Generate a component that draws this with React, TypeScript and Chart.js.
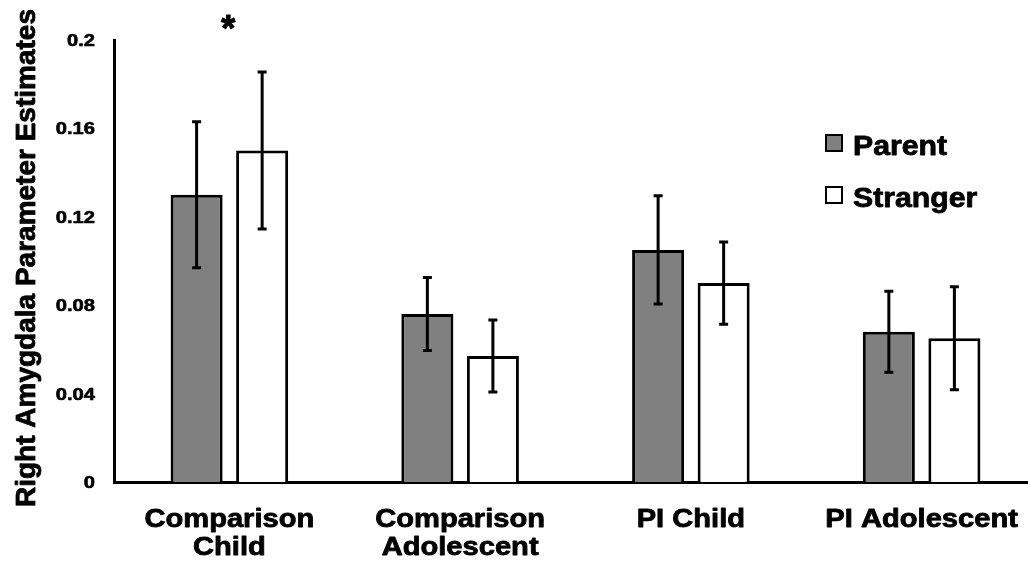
import React, { useEffect, useRef } from 'react';
import { Chart, registerables } from 'chart.js';

Chart.register(...registerables);

// ---- data ----
const categories: string[][] = [
  ['Comparison', 'Child'],
  ['Comparison', 'Adolescent'],
  ['PI Child'],
  ['PI Adolescent'],
];
const seriesNames = ['Parent', 'Stranger'];
const parentValues = [0.13, 0.076, 0.105, 0.068];
const parentErrors = [0.033, 0.0165, 0.0245, 0.0183];
const strangerValues = [0.15, 0.057, 0.09, 0.065];
const strangerErrors = [0.0355, 0.0163, 0.0186, 0.0233];
const yTicks = [0, 0.04, 0.08, 0.12, 0.16, 0.2];
const yTickLabels = ['0', '0.04', '0.08', '0.12', '0.16', '0.2'];
const significanceMarks = ['*', '', '', ''];
const yTitle = 'Right Amygdala Parameter Estimates';

const FONT = '"Liberation Sans", Arial, sans-serif';
const parentColor = '#808080';
const strangerColor = '#ffffff';

function drawText(
  ctx: CanvasRenderingContext2D,
  s: string,
  x: number,
  y: number,
  size: number,
  align: CanvasTextAlign,
  sx: number,
  heavy = 0.7
) {
  ctx.save();
  ctx.translate(x, y);
  ctx.scale(sx, 1);
  ctx.font = `bold ${size}px ${FONT}`;
  ctx.textAlign = align;
  ctx.textBaseline = 'alphabetic';
  ctx.fillStyle = '#000';
  ctx.strokeStyle = '#000';
  ctx.lineJoin = 'round';
  ctx.fillText(s, 0, 0);
  if (heavy > 0) {
    ctx.lineWidth = heavy;
    ctx.strokeText(s, 0, 0);
  }
  ctx.restore();
}

const errorBarPlugin = {
  id: 'errorBars',
  afterDatasetsDraw(chart: any) {
    const ctx = chart.ctx as CanvasRenderingContext2D;
    const yScale = chart.scales.y;
    const errs = [parentErrors, strangerErrors];
    chart.data.datasets.forEach((ds: any, i: number) => {
      const meta = chart.getDatasetMeta(i);
      meta.data.forEach((el: any, j: number) => {
        const v = ds.data[j];
        const e = errs[i][j];
        const x = el.x;
        const yt = yScale.getPixelForValue(v + e);
        const yb = yScale.getPixelForValue(v - e);
        ctx.save();
        ctx.strokeStyle = '#000';
        ctx.lineWidth = 3;
        ctx.beginPath();
        ctx.moveTo(x, yt);
        ctx.lineTo(x, yb);
        ctx.moveTo(x - 4.5, yt);
        ctx.lineTo(x + 4.5, yt);
        ctx.moveTo(x - 4.5, yb);
        ctx.lineTo(x + 4.5, yb);
        ctx.stroke();
        ctx.restore();
      });
    });
  },
};

const textPlugin = {
  id: 'texts',
  afterDraw(chart: any) {
    const ctx = chart.ctx as CanvasRenderingContext2D;
    const xScale = chart.scales.x;
    const yScale = chart.scales.y;
    const area = chart.chartArea;

    // y tick labels
    yTicks.forEach((t, i) => {
      const py = yScale.getPixelForValue(t);
      drawText(ctx, yTickLabels[i], area.left - 19, py + 6, 16.5, 'right', 1.22, 0.6);
    });

    // x category labels
    categories.forEach((lines, i) => {
      const px = xScale.getPixelForValue(i);
      lines.forEach((line, k) => {
        drawText(ctx, line, px, 527 + k * 28, 26, 'center', 1.12, 0.8);
      });
      if (significanceMarks[i]) {
        drawText(ctx, significanceMarks[i], px - 1, 41, 36, 'center', 1.0, 1);
      }
    });

    // y title
    ctx.save();
    ctx.translate(35, 258);
    ctx.rotate(-Math.PI / 2);
    ctx.font = `bold 28px ${FONT}`;
    ctx.textAlign = 'center';
    ctx.textBaseline = 'alphabetic';
    ctx.fillStyle = '#000';
    ctx.strokeStyle = '#000';
    ctx.lineJoin = 'round';
    ctx.lineWidth = 0.8;
    ctx.fillText(yTitle, 0, 0);
    ctx.strokeText(yTitle, 0, 0);
    ctx.restore();

    // legend
    const legendY = [135, 187];
    chart.data.datasets.forEach((ds: any, i: number) => {
      const by = legendY[i];
      ctx.save();
      ctx.fillStyle = ds.backgroundColor;
      ctx.fillRect(826, by, 16, 16);
      ctx.strokeStyle = '#000';
      ctx.lineWidth = 2;
      ctx.strokeRect(826, by, 16, 16);
      ctx.restore();
      drawText(ctx, seriesNames[i], 853, by + 20, 28, 'left', 1.08, 0.8);
    });
  },
};

export default function App() {
  const ref = useRef<HTMLCanvasElement | null>(null);

  useEffect(() => {
    document.body.style.margin = '0';
    const canvas = ref.current;
    if (!canvas) return;
    const chart = new Chart(canvas, {
      type: 'bar',
      data: {
        labels: categories.map((c) => c.join(' ')),
        datasets: [
          {
            label: seriesNames[0],
            data: parentValues,
            backgroundColor: parentColor,
            borderColor: '#000',
            borderWidth: 3,
            borderSkipped: 'start',
            categoryPercentage: 0.568,
            barPercentage: 0.794,
          },
          {
            label: seriesNames[1],
            data: strangerValues,
            backgroundColor: strangerColor,
            borderColor: '#000',
            borderWidth: 3,
            borderSkipped: 'start',
            categoryPercentage: 0.568,
            barPercentage: 0.794,
          },
        ],
      },
      options: {
        responsive: false,
        animation: false,
        devicePixelRatio: 1,
        layout: { padding: { left: 114, right: 3, top: 40, bottom: 85 } },
        plugins: { legend: { display: false }, tooltip: { enabled: false }, title: { display: false } },
        scales: {
          x: {
            type: 'category',
            offset: true,
            grid: { display: false, drawTicks: false },
            ticks: { display: false },
            border: { display: true, color: '#000', width: 3 },
          },
          y: {
            min: 0,
            max: 0.2,
            grid: { display: false, drawTicks: false },
            ticks: { display: false, stepSize: 0.04 },
            border: { display: true, color: '#000', width: 3 },
          },
        },
      },
      plugins: [errorBarPlugin, textPlugin],
    });
    return () => chart.destroy();
  }, []);

  return (
    <div style={{ width: 1028, height: 567, overflow: 'hidden', position: 'relative', background: '#fff' }}>
      <canvas ref={ref} width={1040} height={567} style={{ display: 'block' }} />
    </div>
  );
}
